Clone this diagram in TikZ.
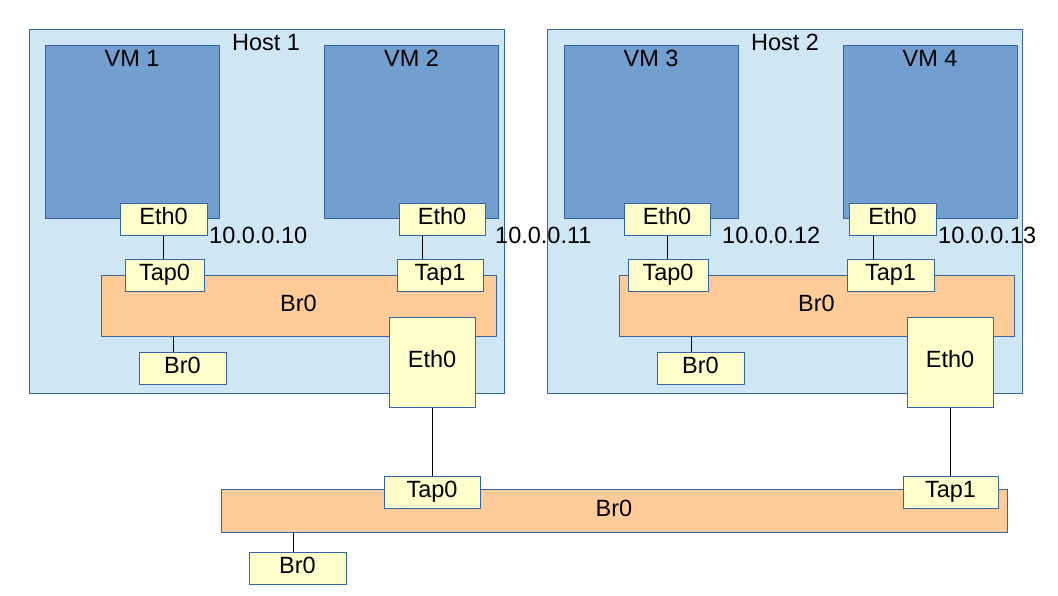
\documentclass[tikz,border=0pt]{standalone}
\usepackage{fontspec}
\setmainfont{Liberation Sans}
\definecolor{hostblue}{HTML}{CFE7F5}
\definecolor{vmblue}{HTML}{729FCF}
\definecolor{edgeblue}{HTML}{3465A4}
\definecolor{portyellow}{HTML}{FFFFCC}
\definecolor{brorange}{HTML}{FFCC99}
\newcommand{\lbl}{\fontsize{23.5}{28}\selectfont}

\begin{document}
\begin{tikzpicture}[x=1pt,y=-1pt,
   box/.style={draw=edgeblue,line width=1pt,inner sep=0pt,font=\lbl,
               text height=17.6pt,text depth=5.9pt},
   host/.style={box,fill=hostblue,minimum width=475pt,minimum height=364pt},
   vm/.style={box,fill=vmblue,minimum width=174pt,minimum height=173pt},
   port/.style={box,fill=portyellow,minimum width=87pt,minimum height=32pt},
   bridge/.style={box,fill=brorange,minimum width=395pt,minimum height=61pt},
   txt/.style={inner sep=0pt,font=\lbl},
   wire/.style={draw=black,line width=1pt}]
   \useasboundingbox (0,0) rectangle (1058,595);
   % hosts
   \node (h1) at (266.5,211) [host] {};
   \node (h2) at (784.5,211) [host] {};
   \node (h1l) at (266,42.5) [txt] {Host 1};
   \node (h2l) at (785,42.5) [txt] {Host 2};
   % vms
   \node (vm1) at (132,131.5) [vm] {};
   \node (vm2) at (411.5,131.5) [vm] {};
   \node (vm3) at (651,131.5) [vm] {};
   \node (vm4) at (930,131.5) [vm] {};
   \node (vm1l) at (132,58) [txt] {VM 1};
   \node (vm2l) at (411.5,58) [txt] {VM 2};
   \node (vm3l) at (651,58) [txt] {VM 3};
   \node (vm4l) at (930,58) [txt] {VM 4};
   % bridges inside the hosts
   \node (br1) at (298.5,305.5) [bridge] {Br0};
   \node (br2) at (816.5,305.5) [bridge] {Br0};
   % taps
   \node (tp1) at (164.5,275) [port,minimum width=79pt] {Tap0};
   \node (tp2) at (440,275) [port,minimum width=86pt] {Tap1};
   \node (tp3) at (668,275) [port,minimum width=80pt] {Tap0};
   \node (tp4) at (890.5,275) [port] {Tap1};
   % vm interfaces
   \node (et1) at (163.5,219) [port] {Eth0};
   \node (et2) at (442,219) [port,minimum width=86pt] {Eth0};
   \node (et3) at (667,219) [port,minimum width=86pt] {Eth0};
   \node (et4) at (892.5,219) [port] {Eth0};
   \node (ip1) at (209,235) [txt,anchor=west] {10.0.0.10};
   \node (ip2) at (495,235) [txt,anchor=west] {10.0.0.11};
   \node (ip3) at (722,235) [txt,anchor=west] {10.0.0.12};
   \node (ip4) at (938,235) [txt,anchor=west] {10.0.0.13};
   % host interfaces
   \node (he1) at (432,362) [port,minimum width=86pt,minimum height=90pt] {Eth0};
   \node (he2) at (950,362) [port,minimum width=86pt,minimum height=90pt] {Eth0};
   \node (bs1) at (182.5,368) [port] {Br0};
   \node (bs2) at (700.5,368) [port] {Br0};
   % outer bridge
   \node (br0) at (614,510.5) [bridge,minimum width=786pt,minimum height=43pt] {Br0};
   \node (bt0) at (432,492) [port,minimum width=96pt] {Tap0};
   \node (bt1) at (950.5,492) [port,minimum width=95pt] {Tap1};
   \node (bs0) at (297.5,568) [port,minimum width=97pt] {Br0};
   % wires
   \draw[wire] (et1.south) -- (et1.south |- tp1.north);
   \draw[wire] ([xshift=-20pt]et2.south) -- ([xshift=-20pt]et2.south |- tp2.north);
   \draw[wire] (et3.south) -- (et3.south |- tp3.north);
   \draw[wire] ([xshift=-19pt]et4.south) -- ([xshift=-19pt]et4.south |- tp4.north);
   \draw[wire] ([xshift=-9.5pt]bs1.north) -- ([xshift=-9.5pt]bs1.north |- br1.south);
   \draw[wire] ([xshift=-9.5pt]bs2.north) -- ([xshift=-9.5pt]bs2.north |- br2.south);
   \draw[wire] (he1.south) -- (he1.south |- bt0.north);
   \draw[wire] (he2.south) -- (he2.south |- bt1.north);
   \draw[wire] ([xshift=-4.5pt]bs0.north) -- ([xshift=-4.5pt]bs0.north |- br0.south);
\end{tikzpicture}
\end{document}
